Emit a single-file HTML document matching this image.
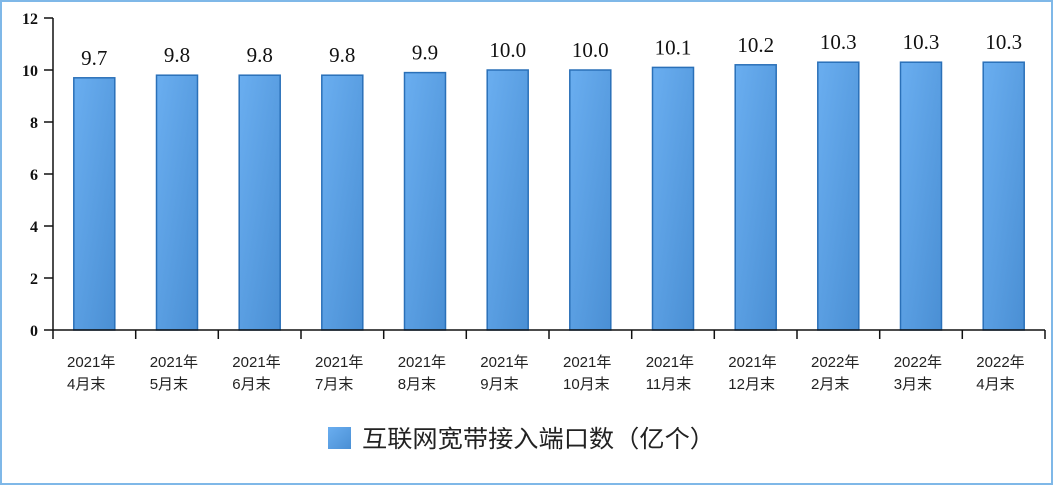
<!DOCTYPE html>
<html><head><meta charset="utf-8"><style>
html,body{margin:0;padding:0;background:#fff;}
svg{display:block;}
</style></head><body>
<svg width="1054" height="486" xmlns="http://www.w3.org/2000/svg">
<rect x="1" y="1" width="1051" height="483" fill="#fff" stroke="#7fb8e8" stroke-width="2"/>
<defs><linearGradient id="g" x1="0" y1="0" x2="1" y2="1"><stop offset="0" stop-color="#6aaef0"/><stop offset="1" stop-color="#4a8fd4"/></linearGradient></defs>
<g font-family="'Liberation Serif',serif" font-size="16" font-weight="bold" text-anchor="end" fill="#111">
<text x="38" y="24">12</text><text x="38" y="76">10</text><text x="38" y="128">8</text><text x="38" y="180">6</text><text x="38" y="232">4</text><text x="38" y="284">2</text><text x="38" y="336">0</text>
</g>
<g fill="url(#g)" stroke="#2a70b8" stroke-width="1.5">
<rect x="73.8" y="77.8" width="41" height="252.2"/>
<rect x="156.5" y="75.2" width="41" height="254.8"/>
<rect x="239.2" y="75.2" width="41" height="254.8"/>
<rect x="321.8" y="75.2" width="41" height="254.8"/>
<rect x="404.5" y="72.6" width="41" height="257.4"/>
<rect x="487.2" y="70" width="41" height="260"/>
<rect x="569.8" y="70" width="41" height="260"/>
<rect x="652.5" y="67.4" width="41" height="262.6"/>
<rect x="735.2" y="64.8" width="41" height="265.2"/>
<rect x="817.8" y="62.2" width="41" height="267.8"/>
<rect x="900.5" y="62.2" width="41" height="267.8"/>
<rect x="983.2" y="62.2" width="41" height="267.8"/>
</g>
<g font-family="'Liberation Serif',serif" font-size="21" fill="#111" text-anchor="middle">
<text x="94.3" y="64.8">9.7</text>
<text x="177" y="62.2">9.8</text>
<text x="259.7" y="62.2">9.8</text>
<text x="342.3" y="62.2">9.8</text>
<text x="425" y="59.6">9.9</text>
<text x="507.7" y="57">10.0</text>
<text x="590.3" y="57">10.0</text>
<text x="673" y="54.4">10.1</text>
<text x="755.7" y="51.8">10.2</text>
<text x="838.3" y="49.2">10.3</text>
<text x="921" y="49.2">10.3</text>
<text x="1003.7" y="49.2">10.3</text>
</g>
<g stroke="#111" stroke-width="1.5">
<line x1="53" y1="18" x2="53" y2="339"/>
<line x1="44" y1="18" x2="53" y2="18"/><line x1="44" y1="70" x2="53" y2="70"/><line x1="44" y1="122" x2="53" y2="122"/><line x1="44" y1="174" x2="53" y2="174"/><line x1="44" y1="226" x2="53" y2="226"/><line x1="44" y1="278" x2="53" y2="278"/><line x1="44" y1="330" x2="53" y2="330"/>
<line x1="53" y1="330" x2="1045" y2="330"/>
<line x1="135.7" y1="330" x2="135.7" y2="339"/><line x1="218.3" y1="330" x2="218.3" y2="339"/><line x1="301" y1="330" x2="301" y2="339"/><line x1="383.7" y1="330" x2="383.7" y2="339"/><line x1="466.3" y1="330" x2="466.3" y2="339"/><line x1="549" y1="330" x2="549" y2="339"/><line x1="631.7" y1="330" x2="631.7" y2="339"/><line x1="714.3" y1="330" x2="714.3" y2="339"/><line x1="797" y1="330" x2="797" y2="339"/><line x1="879.7" y1="330" x2="879.7" y2="339"/><line x1="962.3" y1="330" x2="962.3" y2="339"/><line x1="1045" y1="330" x2="1045" y2="339"/>
</g>
<g font-family="'Liberation Sans','Noto Sans CJK SC',sans-serif" font-size="15" fill="#222">
<text x="67" y="367">2021年</text><text x="67" y="389">4月末</text>
<text x="149.7" y="367">2021年</text><text x="149.7" y="389">5月末</text>
<text x="232.3" y="367">2021年</text><text x="232.3" y="389">6月末</text>
<text x="315" y="367">2021年</text><text x="315" y="389">7月末</text>
<text x="397.7" y="367">2021年</text><text x="397.7" y="389">8月末</text>
<text x="480.3" y="367">2021年</text><text x="480.3" y="389">9月末</text>
<text x="563" y="367">2021年</text><text x="563" y="389">10月末</text>
<text x="645.7" y="367">2021年</text><text x="645.7" y="389">11月末</text>
<text x="728.3" y="367">2021年</text><text x="728.3" y="389">12月末</text>
<text x="811" y="367">2022年</text><text x="811" y="389">2月末</text>
<text x="893.7" y="367">2022年</text><text x="893.7" y="389">3月末</text>
<text x="976.3" y="367">2022年</text><text x="976.3" y="389">4月末</text>
</g>
<rect x="328" y="427" width="23" height="22" fill="url(#g)"/>
<text x="362" y="447" font-family="'Liberation Sans','Noto Sans CJK SC',sans-serif" font-size="24" fill="#222" textLength="353" lengthAdjust="spacingAndGlyphs">互联网宽带接入端口数（亿个）</text>
</svg>
</body></html>
